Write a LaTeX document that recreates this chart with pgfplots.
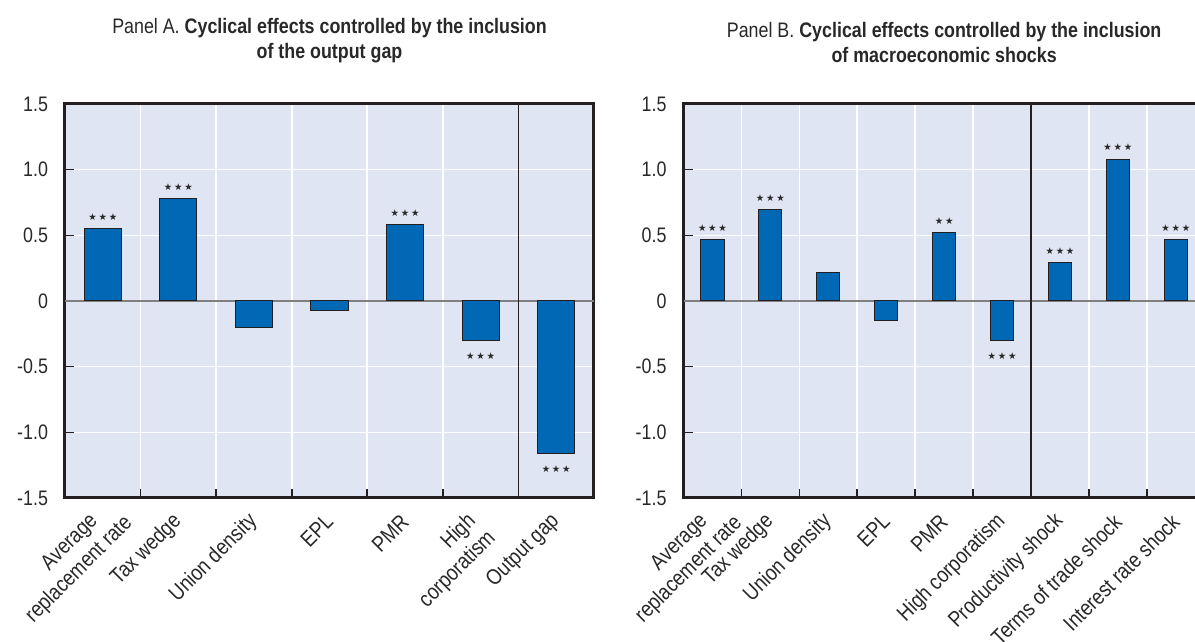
\documentclass[border=0pt]{standalone}
\usepackage{fontspec}
\setmainfont[FakeStretch=0.85]{Liberation Sans}
\newfontfamily\starfont{DejaVu Sans}
\usepackage{pgfplots}
\pgfplotsset{compat=1.18}
\definecolor{bg}{RGB}{224,229,243}
\definecolor{barblue}{RGB}{0,104,180}
\definecolor{frame}{RGB}{35,31,32}
\definecolor{txt}{RGB}{40,40,40}
\newcommand\threestar{{\starfont\fontsize{4.7}{5}\selectfont ★\kern0.9pt★\kern0.9pt★}}
\newcommand\twostar{{\starfont\fontsize{4.7}{5}\selectfont ★\kern0.9pt★}}
% two-line tick label: first line placed like a one-line label, second line below it
\newcommand\twoline[3]{\raisebox{2.8pt}[\height][\depth]{#1}\kern2.8pt\rlap{\kern#3\smash{\raisebox{-10.2pt}{\makebox[0pt][r]{#2}}}}}
\pgfplotsset{panel/.style={
  scale only axis, height=197pt, ymin=-1.5, ymax=1.5,
  ytick={-1.5,-1,...,1.5}, yticklabels={-1.5,-1.0,-0.5,0,0.5,1.0,1.5},
  ytick pos=left, xtick pos=bottom, tick align=inside, major tick length=4.5pt,
  tick style={frame, line width=0.8pt},
  ymajorgrids, xmajorgrids, grid style={white, line width=0.8pt},
  axis background/.style={fill=bg},
  axis line style={frame, line width=1.5pt},
  xticklabel={\relax},
  extra x tick style={grid=none, major tick length=0pt},
  xticklabel style={yshift=-10pt, rotate=45, anchor=east, inner sep=0pt,
     font=\fontsize{11}{12}\selectfont, text=txt},
  yticklabel style={font=\fontsize{10.5}{12}\selectfont, xshift=-5pt, text=txt},
  title style={at={(0.5,1)}, anchor=south, yshift=11pt, align=center,
     font=\fontsize{10.5}{12.5}\selectfont, text=txt},
  bars/.style={ybar, bar shift=0pt, fill=barblue, draw=frame, line width=0.5pt},
  starsup/.style={draw=none, mark=none, nodes near coords, point meta=explicit symbolic,
     every node near coord/.append style={anchor=south, inner sep=4pt, text=txt}},
  starsdown/.style={draw=none, mark=none, nodes near coords, point meta=explicit symbolic,
     every node near coord/.append style={anchor=north, inner sep=6pt, text=txt}},
}}
\begin{document}
\begin{tikzpicture}
\useasboundingbox (0,0) rectangle (597.5pt,321pt);
\begin{axis}[panel, at={(32.5pt,72pt)}, anchor=south west, width=264.5pt,
  xmin=-0.5, xmax=6.5,
  xtick={0.5,1.5,...,5.5},
  extra x ticks={0,1,2,3,4,5,6},
  extra x tick labels={{\twoline{Average}{replacement rate}{8.7pt}},Tax wedge,Union density,EPL,PMR,{\twoline{High}{corporatism}{-1.8pt}},Output gap},
  title={Panel A. \textbf{Cyclical effects controlled by the inclusion}\\\textbf{of the output gap}}]
\draw[gray, line width=0.8pt] (axis cs:-0.5,0) -- (axis cs:6.5,0);
\draw[frame, line width=0.6pt] (axis cs:5.5,-1.5) -- (axis cs:5.5,1.5);
\addplot[bars, bar width=0.49] coordinates {(0,0.55) (1,0.78) (2,-0.20) (3,-0.07) (4,0.58) (5,-0.30) (6,-1.16)};
\addplot[starsup] coordinates {(0,0.55)[\threestar] (1,0.78)[\threestar] (4,0.58)[\threestar]};
\addplot[starsdown] coordinates {(5,-0.30)[\threestar] (6,-1.16)[\threestar]};
\end{axis}
\begin{axis}[panel, at={(341.75pt,72pt)}, anchor=south west, width=260.65pt,
  xmin=-0.5, xmax=8.5,
  xtick={0.5,1.5,...,7.5},
  extra x ticks={0,1,2,3,4,5,6,7,8},
  extra x tick labels={{\twoline{Average}{replacement rate}{8.7pt}},Tax wedge,Union density,EPL,PMR,High corporatism,Productivity shock,Terms of trade shock,Interest rate shock},
  title={Panel B. \textbf{Cyclical effects controlled by the inclusion}\\\textbf{of macroeconomic shocks}}]
\draw[gray, line width=0.8pt] (axis cs:-0.5,0) -- (axis cs:8.5,0);
\draw[frame, line width=0.6pt] (axis cs:5.5,-1.5) -- (axis cs:5.5,1.5);
\addplot[bars, bar width=0.40] coordinates {(0,0.465) (1,0.695) (2,0.22) (3,-0.15) (4,0.52) (5,-0.30) (6,0.29) (7,1.08) (8,0.465)};
\addplot[starsup] coordinates {(0,0.465)[\threestar] (1,0.695)[\threestar] (4,0.52)[\twostar] (6,0.29)[\threestar] (7,1.08)[\threestar] (8,0.465)[\threestar]};
\addplot[starsdown] coordinates {(5,-0.30)[\threestar]};
\end{axis}
\end{tikzpicture}
\end{document}
